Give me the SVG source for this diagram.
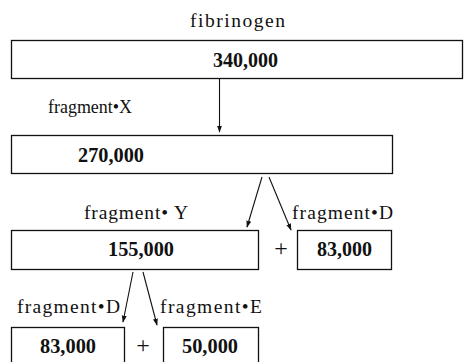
<svg xmlns="http://www.w3.org/2000/svg" width="464" height="362" viewBox="0 0 464 362">
<defs>
<style>
.box{fill:#fff;stroke:#111;stroke-width:1.3}
.lab{font-family:"Liberation Serif","Noto Sans CJK JP",serif;font-size:19.5px;fill:#111}
.num{font-family:"Liberation Serif","Noto Sans CJK JP",serif;font-size:20px;font-weight:bold;fill:#111}
.plus{font-family:"Liberation Serif",serif;font-size:24px;fill:#111;text-anchor:middle}
.ln{stroke:#111;stroke-width:1.1;fill:none;marker-end:url(#ah)}
</style>
<marker id="ah" viewBox="0 0 10 10" refX="9" refY="5" markerWidth="7" markerHeight="7" orient="auto" markerUnits="userSpaceOnUse">
<path d="M0,1.5 L10,5 L0,8.5 Z" fill="#111"/>
</marker>
</defs>
<rect width="464" height="362" fill="#fff"/>
<text class="lab" x="190" y="27" textLength="95" lengthAdjust="spacing">fibrinogen</text>
<g id="fibrinogen">
<rect class="box" x="11.5" y="40.5" width="451" height="38"/>
<text class="num" x="213" y="67" textLength="65" lengthAdjust="spacingAndGlyphs">340,000</text>
</g>
<text class="lab" x="48" y="113" textLength="84" lengthAdjust="spacingAndGlyphs">fragment•X</text>
<g id="fragmentX">
<rect class="box" x="11.5" y="135.5" width="381" height="38"/>
<text class="num" x="78" y="162" textLength="66" lengthAdjust="spacingAndGlyphs">270,000</text>
</g>
<text class="lab" x="84" y="219" textLength="104" lengthAdjust="spacing">fragment• Y</text>
<text class="lab" x="292" y="219" textLength="101" lengthAdjust="spacing">fragment•D</text>
<g id="fragmentY">
<rect class="box" x="11.5" y="230.5" width="247" height="39"/>
<text class="num" x="108" y="256" textLength="66" lengthAdjust="spacingAndGlyphs">155,000</text>
</g>
<text class="plus" x="281" y="256">+</text>
<g id="fragmentD1">
<rect class="box" x="297.5" y="230.5" width="94" height="39"/>
<text class="num" x="317" y="256" textLength="55" lengthAdjust="spacingAndGlyphs">83,000</text>
</g>
<text class="lab" x="17" y="313" textLength="103" lengthAdjust="spacing">fragment•D</text>
<text class="lab" x="160" y="313" textLength="102" lengthAdjust="spacing">fragment•E</text>
<g id="fragmentD2">
<rect class="box" x="11.5" y="327.5" width="113" height="40"/>
<text class="num" x="40" y="353" textLength="56" lengthAdjust="spacingAndGlyphs">83,000</text>
</g>
<text class="plus" x="143" y="353">+</text>
<g id="fragmentE">
<rect class="box" x="163.5" y="327.5" width="95" height="40"/>
<text class="num" x="182" y="353" textLength="56" lengthAdjust="spacingAndGlyphs">50,000</text>
</g>
<g id="connectors">
<line class="ln" x1="219.5" y1="79" x2="219.5" y2="132"/>
<line class="ln" x1="262" y1="177" x2="247" y2="227"/>
<line class="ln" x1="269" y1="177" x2="291" y2="230"/>
<line class="ln" x1="133" y1="272" x2="123" y2="322"/>
<line class="ln" x1="143" y1="272" x2="157" y2="325"/>
</g>
</svg>
